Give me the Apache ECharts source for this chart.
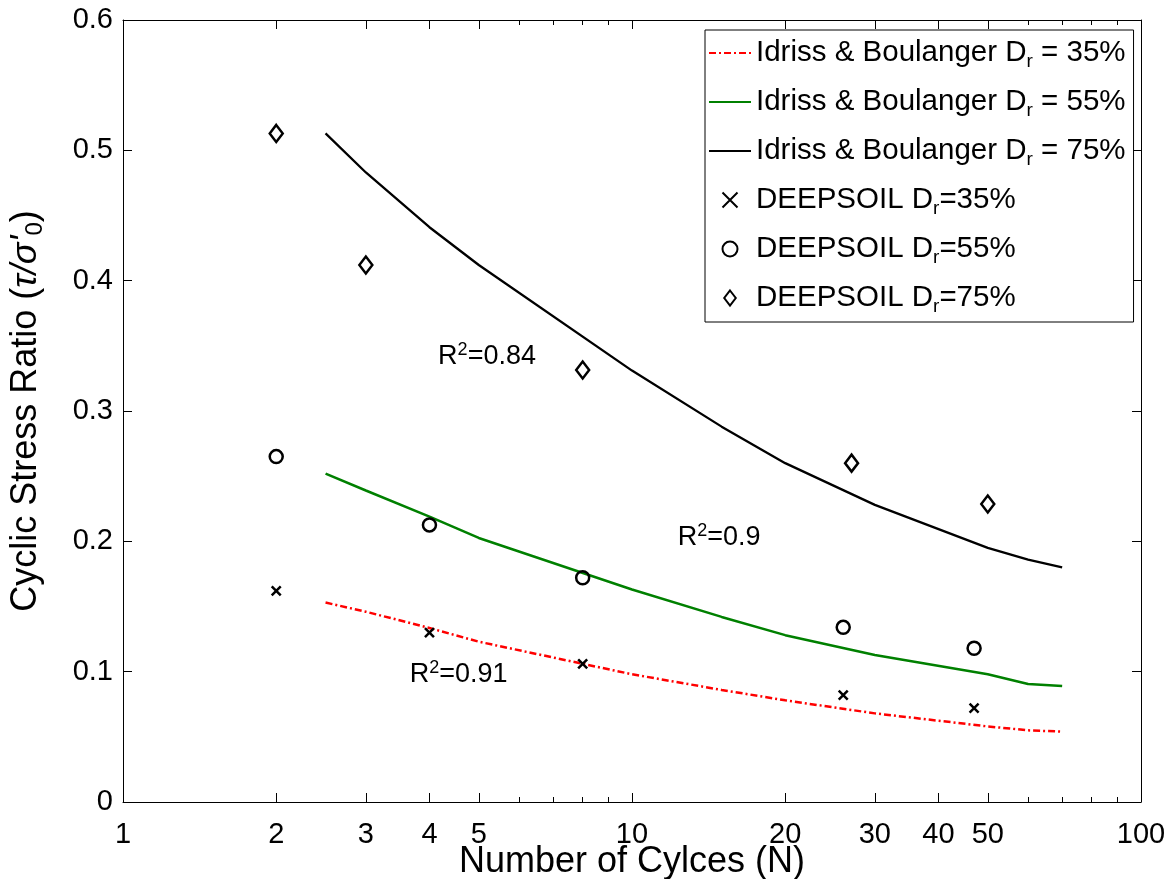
<!DOCTYPE html>
<html>
<head>
<meta charset="utf-8">
<script src="https://cdn.jsdelivr.net/npm/echarts@6/dist/echarts.min.js"></script>
<style>
html,body{margin:0;padding:0;background:#fff;}
#chart{width:1171px;height:879px;}
</style>
</head>
<body>
<div id="chart"></div>
<script>
// ---- data ----
const nIB = [2.5, 3, 4, 5, 10, 15, 20, 30, 50, 60, 70];
const ib35 = [0.153, 0.146, 0.1335, 0.123, 0.098, 0.086, 0.078, 0.068, 0.058, 0.055, 0.054];
const ib55 = [0.252, 0.239, 0.219, 0.2026, 0.163, 0.142, 0.128, 0.1128, 0.098, 0.0906, 0.089];
const ib75 = [0.513, 0.483, 0.441, 0.412, 0.331, 0.288, 0.260, 0.228, 0.195, 0.186, 0.180];

const ds35 = [[2, 0.162], [4, 0.130], [8, 0.106], [26, 0.082], [47, 0.072]];
const ds55 = [[2, 0.265], [4, 0.2126], [8, 0.172], [26, 0.134], [47, 0.118]];
const ds75 = [[2, 0.513], [3, 0.412], [8, 0.3315], [27, 0.260], [50, 0.2287]];

const xMajorTicks = [1, 2, 3, 4, 5, 10, 20, 30, 40, 50, 100];
const xMinorTicks = [6, 7, 8, 9, 60, 70, 80, 90];

const annotations = [
  { x: 4.16, y: 0.3415, text: '0.84' },
  { x: 12.3, y: 0.2026, text: '0.9' },
  { x: 3.66, y: 0.0975, text: '0.91' }
];

const seriesNames = [
  'Idriss & Boulanger Dr = 35%',
  'Idriss & Boulanger Dr = 55%',
  'Idriss & Boulanger Dr = 75%',
  'DEEPSOIL Dr=35%',
  'DEEPSOIL Dr=55%',
  'DEEPSOIL Dr=75%'
];

// ---- chart ----
const FONT = 'Liberation Sans, Arial, Helvetica, sans-serif';
const chart = echarts.init(document.getElementById('chart'), null, { renderer: 'canvas' });

function zip(xs, ys) { return xs.map((x, i) => [x, ys[i]]); }

const axisLineStyle = { color: '#000', width: 1 };
const grid = { left: 123, right: 30, top: 20, bottom: 77, containLabel: false, outerBoundsMode: 'none' };

const crossPath = 'path://M0,0L10,10M10,0L0,10';
const diamondPath = 'path://M5,0L10,6.5L5,13L0,6.5Z';

function legendFmt(name) {
  const m = name.match(/^(.*D)r(.*)$/);
  return '{t|' + m[1] + '}{s|r}{t|' + m[2] + '}';
}

const markerStyle = { color: 'rgba(255,255,255,0)', borderColor: '#000', borderWidth: 2.5, opacity: 1 };

const option = {
  backgroundColor: '#fff',
  animation: false,
  textStyle: { fontFamily: FONT },
  grid: grid,
  legend: {
    orient: 'vertical',
    left: 705,
    top: 30,
    padding: [4, 8, 6, 3],
    borderColor: '#000',
    borderWidth: 1,
    backgroundColor: '#fff',
    itemWidth: 42,
    itemHeight: 15,
    itemGap: 12,
    symbolKeepAspect: true,
    data: seriesNames.map((n, i) => i < 3
      ? { name: n, itemStyle: { opacity: 0, color: 'rgba(0,0,0,0)', borderWidth: 0 } }
      : { name: n }),
    formatter: legendFmt,
    textStyle: {
      fontFamily: FONT,
      color: '#000',
      rich: {
        t: { fontSize: 29.5, fontFamily: FONT, color: '#000', lineHeight: 36 },
        s: { fontSize: 19, fontFamily: FONT, color: '#000', lineHeight: 36, verticalAlign: 'bottom', padding: [18, 0, 0, 0] }
      }
    }
  },
  xAxis: [
    {
      type: 'log', logBase: 10, min: 1, max: 100, gridIndex: 0, position: 'bottom',
      axisLine: { show: true, lineStyle: axisLineStyle },
      axisTick: { show: true, inside: true, length: 9, lineStyle: axisLineStyle, customValues: xMajorTicks },
      axisLabel: { show: true, customValues: xMajorTicks, fontSize: 29, color: '#000', margin: 18, fontFamily: FONT },
      splitLine: { show: false },
      name: 'Number of Cylces (N)',
      nameLocation: 'middle',
      nameGap: 42,
      nameMoveOverlap: false,
      nameTextStyle: { fontSize: 36, color: '#000', fontFamily: FONT }
    },
    {
      type: 'log', logBase: 10, min: 1, max: 100, gridIndex: 0, position: 'bottom',
      axisLine: { show: false },
      axisTick: { show: true, inside: true, length: 5, lineStyle: axisLineStyle, customValues: xMinorTicks },
      axisLabel: { show: false },
      splitLine: { show: false }
    },
    {
      type: 'log', logBase: 10, min: 1, max: 100, gridIndex: 0, position: 'top',
      axisLine: { show: true, lineStyle: axisLineStyle },
      axisTick: { show: true, inside: true, length: 9, lineStyle: axisLineStyle, customValues: xMajorTicks },
      axisLabel: { show: false },
      splitLine: { show: false }
    },
    {
      type: 'log', logBase: 10, min: 1, max: 100, gridIndex: 0, position: 'top',
      axisLine: { show: false },
      axisTick: { show: true, inside: true, length: 5, lineStyle: axisLineStyle, customValues: xMinorTicks },
      axisLabel: { show: false },
      splitLine: { show: false }
    }
  ],
  yAxis: [
    {
      type: 'value', min: 0, max: 0.6, interval: 0.1, position: 'left',
      axisLine: { show: true, lineStyle: axisLineStyle },
      axisTick: { show: true, inside: true, length: 9, lineStyle: axisLineStyle },
      axisLabel: { fontSize: 29, color: '#000', margin: 10, fontFamily: FONT },
      splitLine: { show: false },
      name: "{t|Cyclic Stress Ratio (}{i|τ/σ'}{s|0}{t|)}",
      nameLocation: 'middle',
      nameGap: 76,
      nameRotate: 90,
      nameMoveOverlap: false,
      nameTextStyle: {
        rich: {
          t: { fontSize: 36, color: '#000', fontFamily: FONT, lineHeight: 42 },
          i: { fontSize: 36, color: '#000', fontFamily: FONT, fontStyle: 'italic', lineHeight: 42 },
          s: { fontSize: 24, color: '#000', fontFamily: FONT, lineHeight: 42, verticalAlign: 'bottom', padding: [20, 0, 0, 0] }
        }
      }
    },
    {
      type: 'value', min: 0, max: 0.6, interval: 0.1, position: 'right',
      axisLine: { show: true, lineStyle: axisLineStyle },
      axisTick: { show: true, inside: true, length: 9, lineStyle: axisLineStyle },
      axisLabel: { show: false },
      splitLine: { show: false }
    }
  ],
  series: [
    {
      name: seriesNames[0], type: 'line', xAxisIndex: 0, yAxisIndex: 0,
      data: zip(nIB, ib35), symbol: 'none', smooth: false,
      lineStyle: { color: '#ff0000', width: 2.5, type: [7, 3, 2, 3] },
      itemStyle: { color: '#ff0000' }, z: 3
    },
    {
      name: seriesNames[1], type: 'line', xAxisIndex: 0, yAxisIndex: 0,
      data: zip(nIB, ib55), symbol: 'none',
      lineStyle: { color: '#008000', width: 2.5 },
      itemStyle: { color: '#008000' }, z: 3
    },
    {
      name: seriesNames[2], type: 'line', xAxisIndex: 0, yAxisIndex: 0,
      data: zip(nIB, ib75), symbol: 'none',
      lineStyle: { color: '#000', width: 2.3 },
      itemStyle: { color: '#000' }, z: 3
    },
    {
      name: seriesNames[3], type: 'scatter', xAxisIndex: 0, yAxisIndex: 0,
      data: ds35, symbol: crossPath, symbolSize: 9,
      itemStyle: { color: 'none', borderColor: '#000', borderWidth: 2.5, opacity: 1 }, z: 4
    },
    {
      name: seriesNames[4], type: 'scatter', xAxisIndex: 0, yAxisIndex: 0,
      data: ds55, symbol: 'circle', symbolSize: 13,
      itemStyle: markerStyle, z: 4
    },
    {
      name: seriesNames[5], type: 'scatter', xAxisIndex: 0, yAxisIndex: 0,
      data: ds75, symbol: diamondPath, symbolSize: [13, 17], symbolKeepAspect: false,
      itemStyle: markerStyle, z: 4
    },
    {
      name: 'annotations', type: 'scatter', xAxisIndex: 0, yAxisIndex: 0,
      data: annotations.map(a => ({ value: [a.x, a.y], txt: a.text })),
      symbolSize: 0, silent: true,
      itemStyle: { opacity: 1, color: '#000' },
      label: {
        show: true, position: 'right', distance: 0, color: '#000',
        formatter: p => '{t|R}{p|2}{t|=' + p.data.txt + '}',
        rich: {
          t: { fontSize: 27, color: '#000', fontFamily: FONT, lineHeight: 32 },
          p: { fontSize: 18, color: '#000', fontFamily: FONT, lineHeight: 32, verticalAlign: 'top', padding: [0, 0, 12, 0] }
        }
      }
    }
  ]
};

chart.setOption(option);
</script>
</body>
</html>
